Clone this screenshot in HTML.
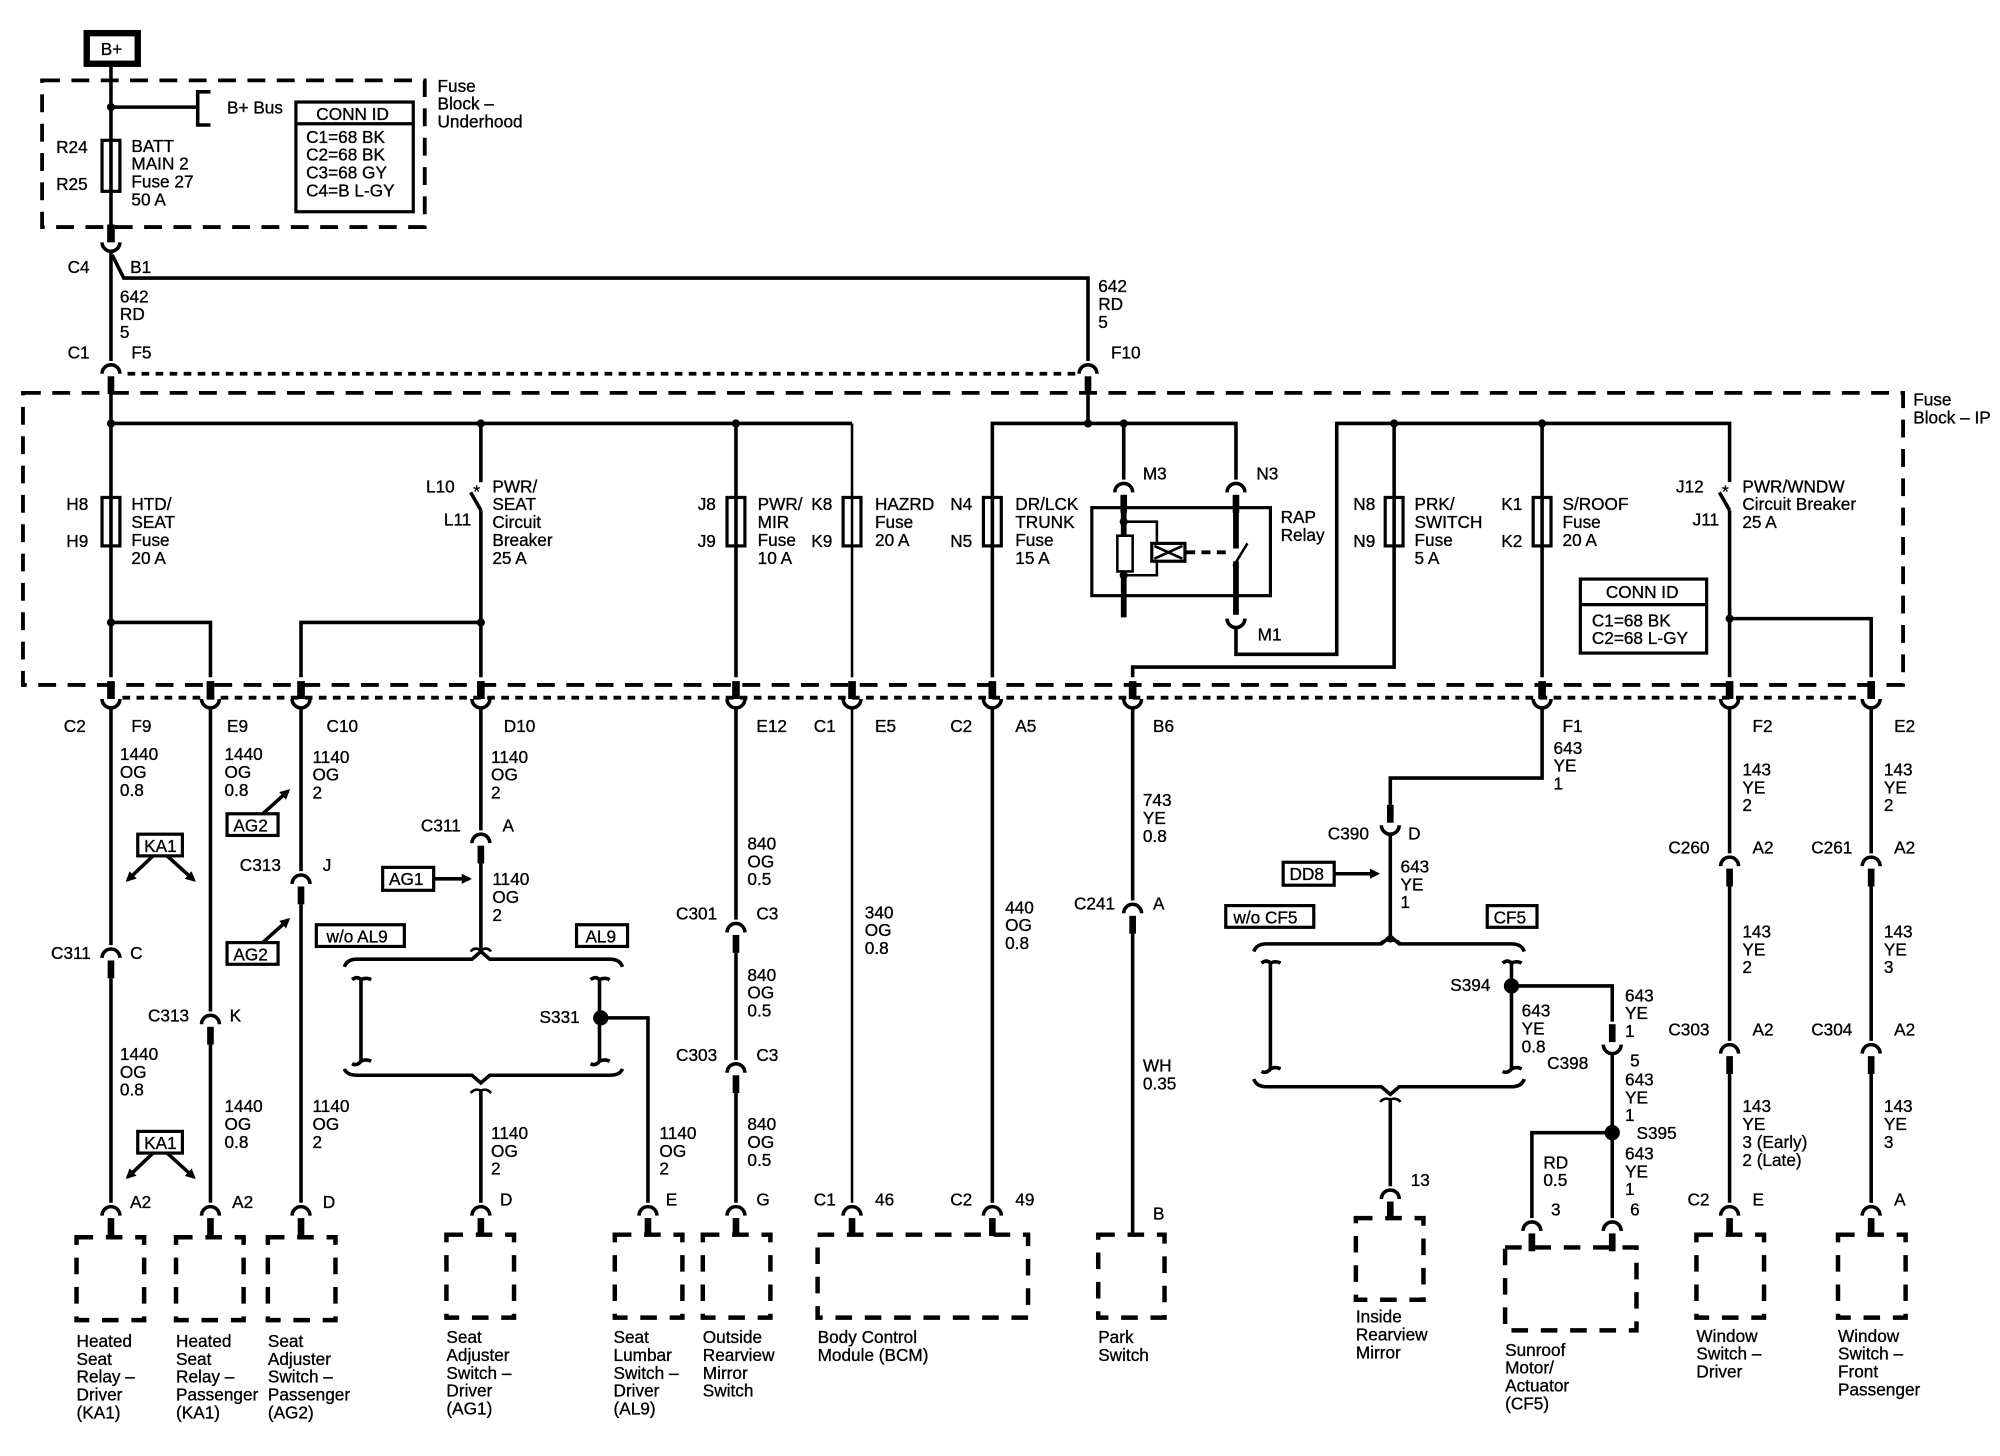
<!DOCTYPE html>
<html><head><meta charset="utf-8"><style>
html,body{margin:0;padding:0;background:#fff}
svg{display:block}
text{font-family:"Liberation Sans",Arial,sans-serif;font-size:13.5px;fill:#000;stroke:#000;stroke-width:0.25}
.w{fill:none;stroke:#000;stroke-width:2.8}
.t{fill:none;stroke:#000;stroke-width:2}
.d{fill:none;stroke:#000;stroke-width:3;stroke-dasharray:14 9}
.dt{fill:none;stroke:#000;stroke-width:3;stroke-dasharray:6 5}
.cb{fill:none;stroke:#000;stroke-width:3.5;stroke-dasharray:13 10}
.bx{fill:#fff;stroke:#000;stroke-width:2.5}
</style></head><body>
<svg width="2000" height="1456" viewBox="0 0 1568 1141.5" xmlns="http://www.w3.org/2000/svg">
<defs>
<g id="cd"><path d="M-7,3 A7,7 0 0 1 7,3" fill="none" stroke="#000" stroke-width="2.8"/><rect x="-2.6" y="5" width="5.2" height="14" fill="#000"/></g>
<g id="cu"><rect x="-3" y="-17" width="6" height="14" fill="#000"/><path d="M-7,-3 A7,7 0 0 0 7,-3" fill="none" stroke="#000" stroke-width="2.8"/></g>
<g id="cu2"><rect x="-2.6" y="-19" width="5.2" height="14" fill="#000"/><path d="M-7,-3 A7,7 0 0 0 7,-3" fill="none" stroke="#000" stroke-width="2.8"/></g>
<g id="dot"><circle r="3.2" fill="#000"/></g>
<g id="sp"><circle r="6" fill="#000"/></g>
<marker id="ar" markerWidth="8" markerHeight="8" refX="6" refY="4" orient="auto" markerUnits="userSpaceOnUse"><path d="M0,0 L8,4 L0,8 z" fill="#000"/></marker>
</defs>

<!-- B+ -->
<rect x="68" y="26" width="40" height="24" fill="#fff" stroke="#000" stroke-width="5"/>
<text x="79" y="43">B+</text>

<!-- Fuse block underhood -->
<rect class="d" x="33" y="63" width="300" height="115"/>
<text x="343" y="72">Fuse</text><text x="343" y="86">Block –</text><text x="343" y="100">Underhood</text>
<line class="w" x1="87" y1="52" x2="87" y2="178"/>
<use href="#dot" x="87" y="84"/>
<line class="w" x1="87" y1="84" x2="155" y2="84"/>
<path class="w" d="M165,72 H155 V98 H165"/>
<text x="178" y="89">B+ Bus</text>
<rect x="80" y="110" width="14" height="40" fill="#fff" stroke="#000" stroke-width="2.5"/>
<line class="w" x1="87" y1="110" x2="87" y2="150"/>
<text x="44" y="120">R24</text><text x="44" y="149">R25</text>
<text x="103" y="119">BATT</text><text x="103" y="133">MAIN 2</text><text x="103" y="147">Fuse 27</text><text x="103" y="161">50 A</text>
<rect class="bx" x="232" y="80" width="92" height="86"/>
<line x1="232" y1="97" x2="324" y2="97" stroke="#000" stroke-width="2.5"/>
<text x="248" y="94">CONN ID</text>
<text x="240" y="112">C1=68 BK</text><text x="240" y="126">C2=68 BK</text><text x="240" y="140">C3=68 GY</text><text x="240" y="154">C4=B L-GY</text>

<!-- C4 / B1 -->
<use href="#cu" x="87" y="193"/>
<line class="w" x1="87" y1="196" x2="87" y2="283"/>
<path class="w" d="M88,200 L97,218 H853 V283"/>
<text x="53" y="214">C4</text><text x="102" y="214">B1</text>
<text x="94" y="237">642</text><text x="94" y="251">RD</text><text x="94" y="265">5</text>
<text x="861" y="229">642</text><text x="861" y="243">RD</text><text x="861" y="257">5</text>
<text x="53" y="281">C1</text><text x="103" y="281">F5</text><text x="871" y="281">F10</text>
<use href="#cd" x="87" y="290"/><use href="#cd" x="853" y="290"/>
<line class="dt" x1="100" y1="293" x2="843" y2="293"/>

<!-- Fuse Block IP -->
<rect class="d" x="18" y="308" width="1474" height="229"/>
<text x="1500" y="318">Fuse</text><text x="1500" y="332">Block – IP</text>

<line class="w" x1="87" y1="308" x2="87" y2="531"/>
<line class="w" x1="87" y1="332" x2="668" y2="332"/>
<use href="#dot" x="87" y="332"/><use href="#dot" x="377" y="332"/><use href="#dot" x="577" y="332"/>
<!-- HTD/SEAT -->
<rect x="80" y="390" width="14" height="38" fill="#fff" stroke="#000" stroke-width="2.5"/><line class="w" x1="87" y1="390" x2="87" y2="428"/>
<text x="52" y="400">H8</text><text x="52" y="429">H9</text>
<text x="103" y="400">HTD/</text><text x="103" y="414">SEAT</text><text x="103" y="428">Fuse</text><text x="103" y="442">20 A</text>
<path class="w" d="M87,488 H165 V531"/><use href="#dot" x="87" y="488"/>
<!-- PWR/SEAT CB -->
<line class="w" x1="377" y1="332" x2="377" y2="378"/>
<text x="371" y="390" style="font-size:14px">*</text>
<line class="w" x1="369" y1="386" x2="377" y2="400"/>
<line class="w" x1="377" y1="400" x2="377" y2="531"/>
<text x="334" y="386">L10</text><text x="348" y="412">L11</text>
<text x="386" y="386">PWR/</text><text x="386" y="400">SEAT</text><text x="386" y="414">Circuit</text><text x="386" y="428">Breaker</text><text x="386" y="442">25 A</text>
<path class="w" d="M236,531 V488 H377"/><use href="#dot" x="377" y="488"/>
<!-- PWR/MIR -->
<line class="w" x1="577" y1="332" x2="577" y2="531"/>
<rect x="570" y="390" width="14" height="38" fill="#fff" stroke="#000" stroke-width="2.5"/><line class="w" x1="577" y1="390" x2="577" y2="428"/>
<text x="547" y="400">J8</text><text x="547" y="429">J9</text>
<text x="594" y="400">PWR/</text><text x="594" y="414">MIR</text><text x="594" y="428">Fuse</text><text x="594" y="442">10 A</text>
<!-- HAZRD -->
<line class="t" x1="668" y1="332" x2="668" y2="531"/>
<rect x="661" y="390" width="14" height="38" fill="#fff" stroke="#000" stroke-width="2.5"/><line class="t" x1="668" y1="390" x2="668" y2="428"/>
<text x="636" y="400">K8</text><text x="636" y="429">K9</text>
<text x="686" y="400">HAZRD</text><text x="686" y="414">Fuse</text><text x="686" y="428">20 A</text>
<!-- DR/LCK -->
<path class="w" d="M778,531 V332 H969 V376"/>
<line class="w" x1="853" y1="308" x2="853" y2="332"/>
<use href="#dot" x="853" y="332"/><use href="#dot" x="881" y="332"/>
<line class="w" x1="881" y1="332" x2="881" y2="376"/>
<rect x="771" y="390" width="14" height="38" fill="#fff" stroke="#000" stroke-width="2.5"/><line class="w" x1="778" y1="390" x2="778" y2="428"/>
<text x="745" y="400">N4</text><text x="745" y="429">N5</text>
<text x="796" y="400">DR/LCK</text><text x="796" y="414">TRUNK</text><text x="796" y="428">Fuse</text><text x="796" y="442">15 A</text>
<!-- RAP relay -->
<rect x="856" y="398" width="140" height="69" fill="none" stroke="#000" stroke-width="2.5"/>
<use href="#cd" x="881" y="383"/><use href="#cd" x="969" y="383"/>
<line x1="881" y1="388" x2="881" y2="484" stroke="#000" stroke-width="4.5"/>
<text x="896" y="376">M3</text><text x="985" y="376">N3</text>
<path class="t" d="M881,409 H907 V451 H881"/>
<use href="#dot" x="881" y="409"/><use href="#dot" x="881" y="451"/>
<rect x="876" y="420" width="12" height="28" fill="#fff" stroke="#000" stroke-width="2"/>
<rect x="903" y="426" width="26" height="14" fill="#fff" stroke="#000" stroke-width="2.5"/>
<path d="M905,428 L927,438 M905,438 L927,428" stroke="#000" stroke-width="2"/>
<line x1="930" y1="433" x2="962" y2="433" stroke="#000" stroke-width="3" stroke-dasharray="7 5"/>
<line x1="969" y1="388" x2="969" y2="430" stroke="#000" stroke-width="4.5"/>
<line class="t" x1="967" y1="444" x2="978" y2="426"/>
<line x1="969" y1="440" x2="969" y2="482" stroke="#000" stroke-width="4.5"/>
<path d="M962,485 A7,7 0 0 0 976,485" fill="none" stroke="#000" stroke-width="2.8"/>
<text x="986" y="502">M1</text>
<text x="1004" y="410">RAP</text><text x="1004" y="424">Relay</text>
<path class="w" d="M969,491 V513 H1048 V332 H1356 V378"/>
<use href="#dot" x="1093" y="332"/><use href="#dot" x="1209" y="332"/>
<!-- PRK -->
<path class="w" d="M1093,332 V523 H888 V531"/>
<rect x="1086" y="390" width="14" height="38" fill="#fff" stroke="#000" stroke-width="2.5"/><line class="w" x1="1093" y1="390" x2="1093" y2="428"/>
<text x="1061" y="400">N8</text><text x="1061" y="429">N9</text>
<text x="1109" y="400">PRK/</text><text x="1109" y="414">SWITCH</text><text x="1109" y="428">Fuse</text><text x="1109" y="442">5 A</text>
<!-- S/ROOF -->
<line class="w" x1="1209" y1="332" x2="1209" y2="531"/>
<rect x="1202" y="390" width="14" height="38" fill="#fff" stroke="#000" stroke-width="2.5"/><line class="w" x1="1209" y1="390" x2="1209" y2="428"/>
<text x="1177" y="400">K1</text><text x="1177" y="429">K2</text>
<text x="1225" y="400">S/ROOF</text><text x="1225" y="414">Fuse</text><text x="1225" y="428">20 A</text>
<!-- PWR/WNDW -->
<text x="1350" y="390" style="font-size:14px">*</text>
<line class="w" x1="1348" y1="386" x2="1356" y2="400"/>
<line class="w" x1="1356" y1="400" x2="1356" y2="531"/>
<text x="1314" y="386">J12</text><text x="1327" y="412">J11</text>
<text x="1366" y="386">PWR/WNDW</text><text x="1366" y="400">Circuit Breaker</text><text x="1366" y="414">25 A</text>
<path class="w" d="M1356,485 H1467 V531"/><use href="#dot" x="1356" y="485"/>
<rect class="bx" x="1239" y="454" width="99" height="58"/>
<line x1="1239" y1="474" x2="1338" y2="474" stroke="#000" stroke-width="2.5"/>
<text x="1259" y="469">CONN ID</text>
<text x="1248" y="491">C1=68 BK</text><text x="1248" y="505">C2=68 L-GY</text>

<!-- IP bottom connectors -->
<line class="dt" x1="96" y1="547" x2="1460" y2="547"/>
<use href="#cu" x="87" y="551"/><use href="#cu" x="165" y="551"/><use href="#cu" x="236" y="551"/><use href="#cu" x="377" y="551"/>
<use href="#cu" x="577" y="551"/><use href="#cu" x="668" y="551"/><use href="#cu" x="778" y="551"/><use href="#cu" x="888" y="551"/>
<use href="#cu" x="1209" y="551"/><use href="#cu" x="1356" y="551"/><use href="#cu" x="1467" y="551"/>
<text x="50" y="574">C2</text><text x="103" y="574">F9</text><text x="178" y="574">E9</text><text x="256" y="574">C10</text><text x="395" y="574">D10</text>
<text x="593" y="574">E12</text><text x="638" y="574">C1</text><text x="686" y="574">E5</text><text x="745" y="574">C2</text><text x="796" y="574">A5</text>
<text x="904" y="574">B6</text><text x="1225" y="574">F1</text><text x="1374" y="574">F2</text><text x="1485" y="574">E2</text>

<!-- col1 87 -->
<line class="w" x1="87" y1="555" x2="87" y2="741"/>
<use href="#cd" x="87" y="748"/>
<line class="w" x1="87" y1="767" x2="87" y2="943"/>
<text x="94" y="596">1440</text><text x="94" y="610">OG</text><text x="94" y="624">0.8</text>
<text x="40" y="752">C311</text><text x="102" y="752">C</text>
<text x="94" y="831">1440</text><text x="94" y="845">OG</text><text x="94" y="859">0.8</text>
<!-- col2 165 -->
<line class="w" x1="165" y1="555" x2="165" y2="793"/>
<use href="#cd" x="165" y="800"/>
<line class="w" x1="165" y1="819" x2="165" y2="943"/>
<text x="176" y="596">1440</text><text x="176" y="610">OG</text><text x="176" y="624">0.8</text>
<text x="116" y="801">C313</text><text x="180" y="801">K</text>
<text x="176" y="872">1440</text><text x="176" y="886">OG</text><text x="176" y="900">0.8</text>
<!-- KA1 arrows -->
<rect class="bx" x="108" y="654" width="35" height="17"/><text x="113" y="668">KA1</text>
<line class="w" x1="120" y1="671" x2="100" y2="690" marker-end="url(#ar)"/><line class="w" x1="131" y1="671" x2="152" y2="690" marker-end="url(#ar)"/>
<rect class="bx" x="108" y="887" width="35" height="17"/><text x="113" y="901">KA1</text>
<line class="w" x1="120" y1="904" x2="100" y2="923" marker-end="url(#ar)"/><line class="w" x1="131" y1="904" x2="152" y2="923" marker-end="url(#ar)"/>
<!-- col3 236 -->
<line class="w" x1="236" y1="555" x2="236" y2="683"/>
<use href="#cd" x="236" y="690"/>
<line class="w" x1="236" y1="709" x2="236" y2="943"/>
<text x="245" y="598">1140</text><text x="245" y="612">OG</text><text x="245" y="626">2</text>
<text x="188" y="683">C313</text><text x="253" y="683">J</text>
<text x="245" y="872">1140</text><text x="245" y="886">OG</text><text x="245" y="900">2</text>
<rect class="bx" x="178" y="638" width="40" height="17"/><text x="183" y="652">AG2</text>
<line class="w" x1="206" y1="638" x2="226" y2="620" marker-end="url(#ar)"/>
<rect class="bx" x="178" y="739" width="40" height="17"/><text x="183" y="753">AG2</text>
<line class="w" x1="206" y1="739" x2="226" y2="721" marker-end="url(#ar)"/>
<!-- col4 377 -->
<line class="w" x1="377" y1="555" x2="377" y2="651"/>
<use href="#cd" x="377" y="658"/>
<line class="w" x1="377" y1="677" x2="377" y2="744"/>
<text x="385" y="598">1140</text><text x="385" y="612">OG</text><text x="385" y="626">2</text>
<text x="330" y="652">C311</text><text x="394" y="652">A</text>
<rect class="bx" x="300" y="680" width="40" height="18"/><text x="305" y="694">AG1</text>
<line class="w" x1="340" y1="689" x2="368" y2="689" marker-end="url(#ar)"/>
<text x="386" y="694">1140</text><text x="386" y="708">OG</text><text x="386" y="722">2</text>
<rect class="bx" x="248" y="725" width="69" height="17"/><text x="256" y="739">w/o AL9</text>
<rect class="bx" x="452" y="725" width="40" height="17"/><text x="459" y="739">AL9</text>
<path class="t" d="M369,746 Q372,742 377,745 Q382,742 385,746"/>
<path class="w" d="M270,758 Q272,752 280,752 H370 L377,746 L384,752 H478 Q486,752 488,758"/>
<path class="w" d="M276,768 Q280,765 283,768 V832 Q280,836 276,834 M283,768 Q287,766 291,768 M283,832 Q287,830 291,832"/>
<path class="w" d="M463,768 Q467,765 470,768 V832 Q467,836 463,834 M470,768 Q474,766 478,768 M470,832 Q474,830 478,832"/>
<path class="w" d="M270,838 Q272,843 280,843 H370 L377,849 L384,843 H478 Q486,843 488,838"/>
<path class="t" d="M369,857 Q372,853 377,855 Q382,853 385,857"/>
<use href="#sp" x="471" y="798"/>
<path class="w" d="M471,798 H508 V943"/>
<text x="423" y="802">S331</text>
<line class="w" x1="377" y1="855" x2="377" y2="943"/>
<text x="385" y="893">1140</text><text x="385" y="907">OG</text><text x="385" y="921">2</text>
<text x="517" y="893">1140</text><text x="517" y="907">OG</text><text x="517" y="921">2</text>
<!-- col5 577 -->
<line class="w" x1="577" y1="555" x2="577" y2="721"/>
<use href="#cd" x="577" y="728"/>
<line class="w" x1="577" y1="747" x2="577" y2="831"/>
<use href="#cd" x="577" y="838"/>
<line class="w" x1="577" y1="857" x2="577" y2="943"/>
<text x="586" y="666">840</text><text x="586" y="680">OG</text><text x="586" y="694">0.5</text>
<text x="530" y="721">C301</text><text x="593" y="721">C3</text>
<text x="586" y="769">840</text><text x="586" y="783">OG</text><text x="586" y="797">0.5</text>
<text x="530" y="832">C303</text><text x="593" y="832">C3</text>
<text x="586" y="886">840</text><text x="586" y="900">OG</text><text x="586" y="914">0.5</text>
<!-- col6/7 BCM -->
<line class="t" x1="668" y1="555" x2="668" y2="943"/>
<line class="w" x1="778" y1="555" x2="778" y2="943"/>
<text x="678" y="720">340</text><text x="678" y="734">OG</text><text x="678" y="748">0.8</text>
<text x="788" y="716">440</text><text x="788" y="730">OG</text><text x="788" y="744">0.8</text>
<!-- col8 888 -->
<line class="w" x1="888" y1="555" x2="888" y2="706"/>
<use href="#cd" x="888" y="713"/>
<line class="w" x1="888" y1="732" x2="888" y2="968"/>
<text x="896" y="632">743</text><text x="896" y="646">YE</text><text x="896" y="660">0.8</text>
<text x="842" y="713">C241</text><text x="904" y="713">A</text>
<text x="896" y="840">WH</text><text x="896" y="854">0.35</text>
<text x="904" y="956">B</text>
<!-- F1 1209 -->
<path class="w" d="M1209,555 V610 H1090 V631"/>
<use href="#cu2" x="1090" y="650"/>
<line class="w" x1="1090" y1="654" x2="1090" y2="738"/>
<text x="1218" y="591">643</text><text x="1218" y="605">YE</text><text x="1218" y="619">1</text>
<text x="1041" y="658">C390</text><text x="1104" y="658">D</text>
<rect class="bx" x="1006" y="676" width="40" height="18"/><text x="1011" y="690">DD8</text>
<line class="w" x1="1046" y1="685" x2="1080" y2="685" marker-end="url(#ar)"/>
<text x="1098" y="684">643</text><text x="1098" y="698">YE</text><text x="1098" y="712">1</text>
<rect class="bx" x="961" y="710" width="69" height="17"/><text x="967" y="724">w/o CF5</text>
<rect class="bx" x="1166" y="710" width="39" height="17"/><text x="1171" y="724">CF5</text>
<path class="t" d="M1082,740 Q1085,736 1090,738 Q1095,736 1098,740"/>
<path class="w" d="M983,746 Q985,740 993,740 H1083 L1090,734 L1097,740 H1185 Q1193,740 1195,746"/>
<path class="w" d="M989,755 Q993,752 996,755 V838 Q993,842 989,840 M996,755 Q1000,753 1004,755 M996,838 Q1000,836 1004,838"/>
<path class="w" d="M1178,755 Q1182,752 1185,755 V838 Q1182,842 1178,840 M1185,755 Q1189,753 1193,755 M1185,838 Q1189,836 1193,838"/>
<path class="w" d="M983,846 Q985,852 993,852 H1083 L1090,858 L1097,852 H1185 Q1193,852 1195,846"/>
<path class="t" d="M1082,864 Q1085,860 1090,862 Q1095,860 1098,864"/>
<line class="w" x1="1090" y1="862" x2="1090" y2="930"/>
<use href="#sp" x="1185" y="773"/>
<path class="w" d="M1185,773 H1264 V801"/>
<text x="1137" y="777">S394</text>
<text x="1193" y="797">643</text><text x="1193" y="811">YE</text><text x="1193" y="825">0.8</text>
<text x="1274" y="785">643</text><text x="1274" y="799">YE</text><text x="1274" y="813">1</text>
<use href="#cu2" x="1264" y="822"/>
<text x="1213" y="838">C398</text><text x="1278" y="836">5</text>
<line class="w" x1="1264" y1="826" x2="1264" y2="955"/>
<text x="1274" y="851">643</text><text x="1274" y="865">YE</text><text x="1274" y="879">1</text>
<use href="#sp" x="1264" y="888"/>
<path class="w" d="M1264,888 H1201 V955"/>
<text x="1283" y="893">S395</text>
<text x="1210" y="916">RD</text><text x="1210" y="930">0.5</text>
<text x="1274" y="909">643</text><text x="1274" y="923">YE</text><text x="1274" y="937">1</text>
<!-- F2 1356 -->
<line class="w" x1="1356" y1="555" x2="1356" y2="669"/>
<use href="#cd" x="1356" y="676"/>
<line class="w" x1="1356" y1="695" x2="1356" y2="816"/>
<use href="#cd" x="1356" y="823"/>
<line class="w" x1="1356" y1="842" x2="1356" y2="943"/>
<text x="1366" y="608">143</text><text x="1366" y="622">YE</text><text x="1366" y="636">2</text>
<text x="1308" y="669">C260</text><text x="1374" y="669">A2</text>
<text x="1366" y="735">143</text><text x="1366" y="749">YE</text><text x="1366" y="763">2</text>
<text x="1308" y="812">C303</text><text x="1374" y="812">A2</text>
<text x="1366" y="872">143</text><text x="1366" y="886">YE</text><text x="1366" y="900">3 (Early)</text><text x="1366" y="914">2 (Late)</text>
<!-- E2 1467 -->
<line class="w" x1="1467" y1="555" x2="1467" y2="669"/>
<use href="#cd" x="1467" y="676"/>
<line class="w" x1="1467" y1="695" x2="1467" y2="816"/>
<use href="#cd" x="1467" y="823"/>
<line class="w" x1="1467" y1="842" x2="1467" y2="943"/>
<text x="1477" y="608">143</text><text x="1477" y="622">YE</text><text x="1477" y="636">2</text>
<text x="1420" y="669">C261</text><text x="1485" y="669">A2</text>
<text x="1477" y="735">143</text><text x="1477" y="749">YE</text><text x="1477" y="763">3</text>
<text x="1420" y="812">C304</text><text x="1485" y="812">A2</text>
<text x="1477" y="872">143</text><text x="1477" y="886">YE</text><text x="1477" y="900">3</text>

<!-- bottom connectors -->
<use href="#cd" x="87" y="950"/><use href="#cd" x="165" y="950"/><use href="#cd" x="236" y="950"/>
<use href="#cd" x="377" y="950"/><use href="#cd" x="508" y="950"/><use href="#cd" x="577" y="950"/>
<use href="#cd" x="668" y="950"/><use href="#cd" x="778" y="950"/>
<use href="#cd" x="1090" y="937"/><use href="#cd" x="1201" y="962"/><use href="#cd" x="1264" y="962"/>
<use href="#cd" x="1356" y="950"/><use href="#cd" x="1467" y="950"/>
<text x="102" y="947">A2</text><text x="182" y="947">A2</text><text x="253" y="947">D</text>
<text x="392" y="945">D</text><text x="522" y="945">E</text><text x="593" y="945">G</text>
<text x="638" y="945">C1</text><text x="686" y="945">46</text><text x="745" y="945">C2</text><text x="796" y="945">49</text>
<text x="1106" y="930">13</text><text x="1216" y="953">3</text><text x="1278" y="953">6</text>
<text x="1323" y="945">C2</text><text x="1374" y="945">E</text><text x="1485" y="945">A</text>

<!-- component boxes -->
<rect class="cb" x="60" y="970" width="53" height="65"/>
<rect class="cb" x="138" y="970" width="53" height="65"/>
<rect class="cb" x="210" y="970" width="53" height="65"/>
<rect class="cb" x="350" y="968" width="53" height="65"/>
<rect class="cb" x="482" y="968" width="53" height="65"/>
<rect class="cb" x="551" y="968" width="53" height="65"/>
<rect class="cb" x="641" y="968" width="165" height="65"/>
<rect class="cb" x="861" y="968" width="52" height="65"/>
<rect class="cb" x="1063" y="955" width="53" height="64"/>
<rect class="cb" x="1180" y="978" width="103" height="65"/>
<rect class="cb" x="1330" y="968" width="53" height="65"/>
<rect class="cb" x="1441" y="968" width="53" height="65"/>

<text x="60" y="1056">Heated</text><text x="60" y="1070">Seat</text><text x="60" y="1084">Relay –</text><text x="60" y="1098">Driver</text><text x="60" y="1112">(KA1)</text>
<text x="138" y="1056">Heated</text><text x="138" y="1070">Seat</text><text x="138" y="1084">Relay –</text><text x="138" y="1098">Passenger</text><text x="138" y="1112">(KA1)</text>
<text x="210" y="1056">Seat</text><text x="210" y="1070">Adjuster</text><text x="210" y="1084">Switch –</text><text x="210" y="1098">Passenger</text><text x="210" y="1112">(AG2)</text>
<text x="350" y="1053">Seat</text><text x="350" y="1067">Adjuster</text><text x="350" y="1081">Switch –</text><text x="350" y="1095">Driver</text><text x="350" y="1109">(AG1)</text>
<text x="481" y="1053">Seat</text><text x="481" y="1067">Lumbar</text><text x="481" y="1081">Switch –</text><text x="481" y="1095">Driver</text><text x="481" y="1109">(AL9)</text>
<text x="551" y="1053">Outside</text><text x="551" y="1067">Rearview</text><text x="551" y="1081">Mirror</text><text x="551" y="1095">Switch</text>
<text x="641" y="1053">Body Control</text><text x="641" y="1067">Module (BCM)</text>
<text x="861" y="1053">Park</text><text x="861" y="1067">Switch</text>
<text x="1063" y="1037">Inside</text><text x="1063" y="1051">Rearview</text><text x="1063" y="1065">Mirror</text>
<text x="1180" y="1063">Sunroof</text><text x="1180" y="1077">Motor/</text><text x="1180" y="1091">Actuator</text><text x="1180" y="1105">(CF5)</text>
<text x="1330" y="1052">Window</text><text x="1330" y="1066">Switch –</text><text x="1330" y="1080">Driver</text>
<text x="1441" y="1052">Window</text><text x="1441" y="1066">Switch –</text><text x="1441" y="1080">Front</text><text x="1441" y="1094">Passenger</text>
</svg>
</body></html>
